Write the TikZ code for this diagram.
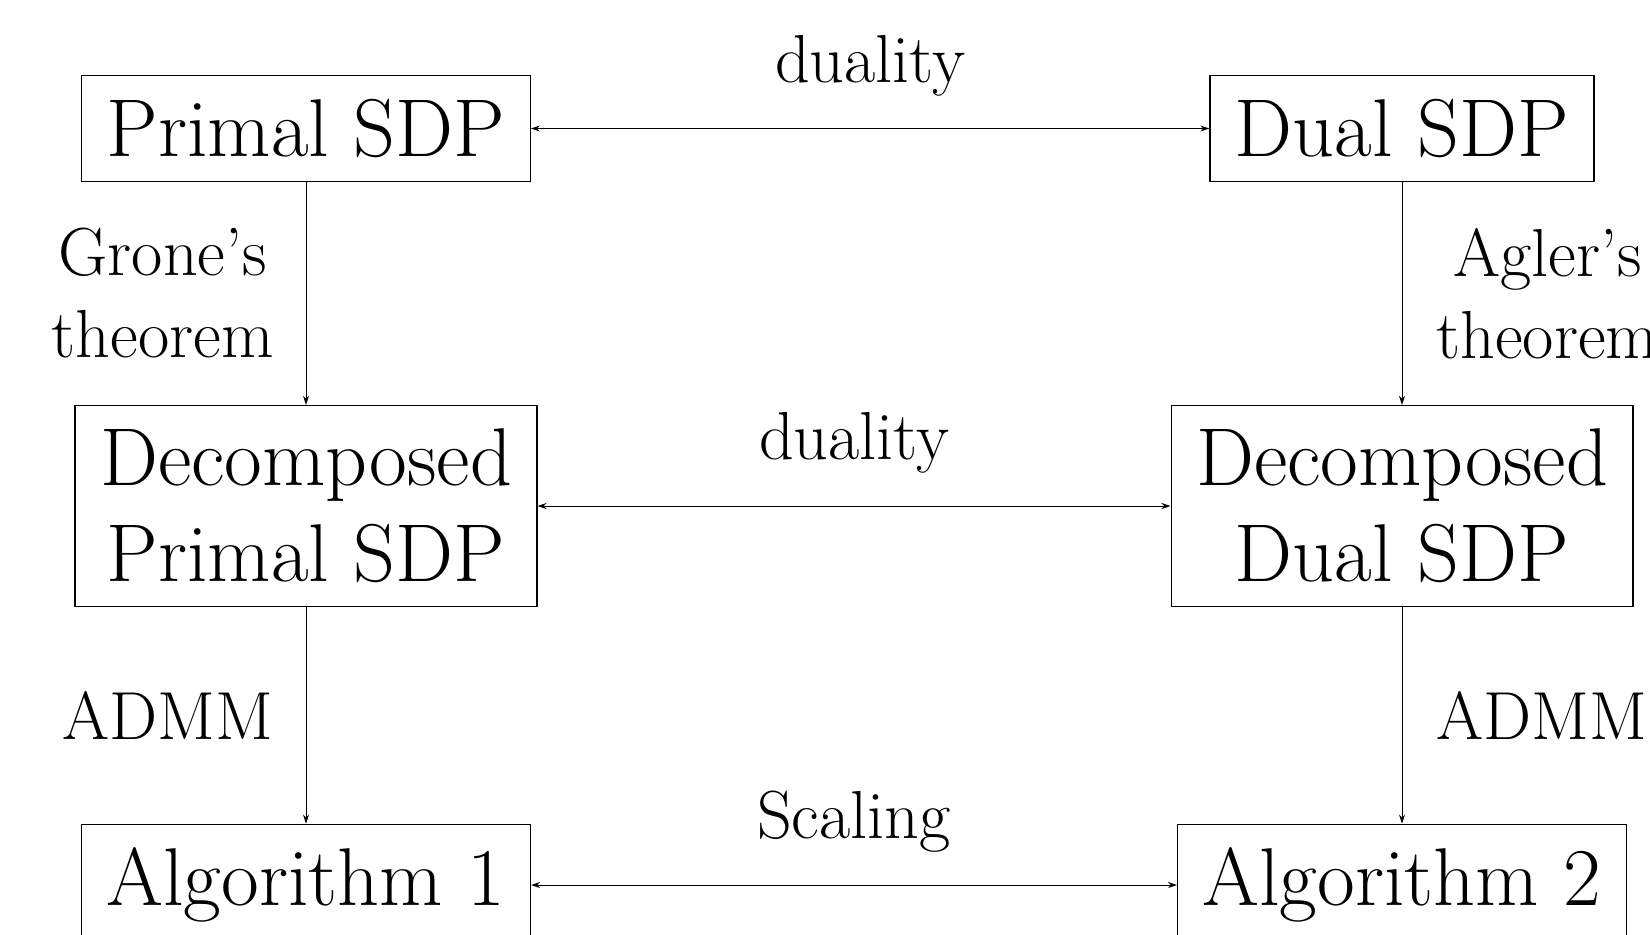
\documentclass[tikz,border=0pt]{standalone}
\usetikzlibrary{arrows.meta}
\begin{document}
\begin{tikzpicture}[x=0.5pt,y=-0.5pt,
  box/.style={draw, line width=0.6pt, inner xsep=12.5pt, inner ysep=11.75pt,
    align=center, font=\fontsize{41}{48}\selectfont},
  lbl/.style={font=\fontsize{34}{41}\selectfont, align=center, inner sep=16pt},
  link/.style={line width=0.5pt, -{Stealth[length=4.5pt,width=3pt]}},
  both/.style={line width=0.5pt, {Stealth[length=4.5pt,width=3pt]}-{Stealth[length=4.5pt,width=3pt]}}]
\clip (0,0) rectangle (1650,934);

% boxes
\node[box] (ps) at (306,128.5) {Primal SDP};
\node[box] (ds) at (1402,128.5) {Dual SDP};
\node[box] (dps) at (306,506) {Decomposed\\Primal SDP};
\node[box] (dds) at (1402,506) {Decomposed\\Dual SDP};
\node[box] (a1) at (306,885) {Algorithm 1};
\node[box] (a2) at (1402,885) {Algorithm 2};

% horizontal relations
\draw[both] (ps) -- node[lbl, midway, above] {duality} (ds);
\draw[both] (dps) -- node[lbl, midway, above] {duality} (dds);
\draw[both] (a1) -- node[lbl, midway, above] {Scaling} (a2);

% vertical steps
\draw[link] (ps) -- node[lbl, midway, left] {Grone’s\\theorem} (dps);
\draw[link] (ds) -- node[lbl, midway, right, inner xsep=17pt] {Agler’s\\theorem} (dds);
\draw[link] (dps) -- node[lbl, midway, left] {ADMM} (a1);
\draw[link] (dds) -- node[lbl, midway, right, inner xsep=17pt] {ADMM} (a2);
\end{tikzpicture}
\end{document}
